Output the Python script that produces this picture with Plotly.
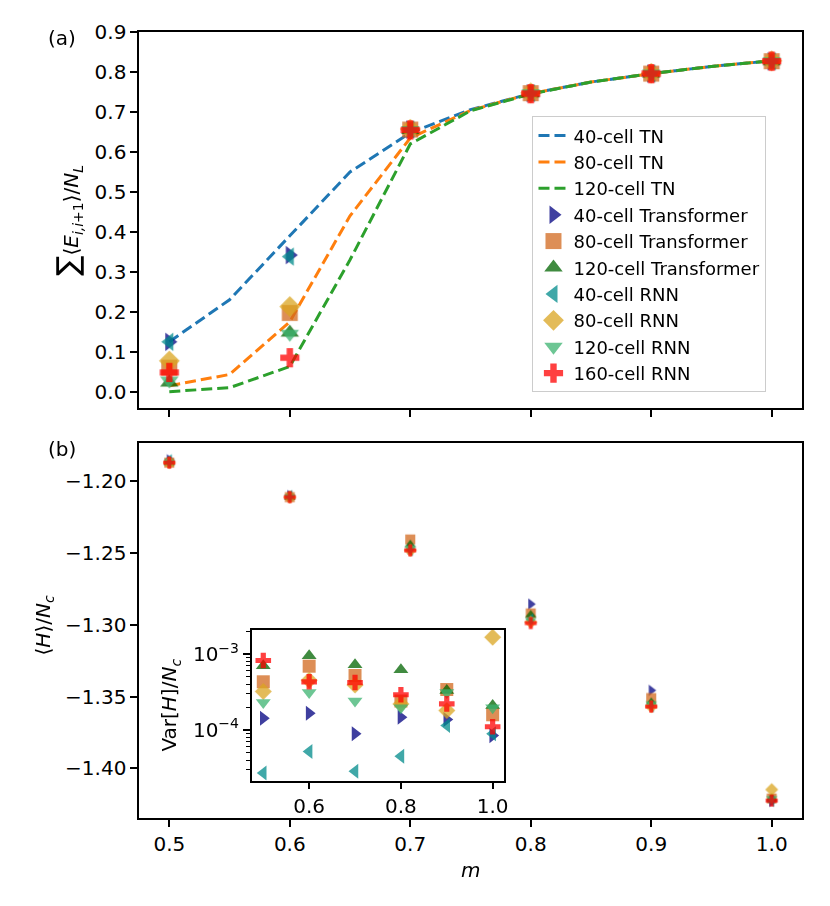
import plotly.graph_objects as go

# ---- data ----
m_tn = [0.5, 0.55, 0.6, 0.65, 0.7, 0.75, 0.8, 0.85, 0.9, 0.95, 1.0]
tn_40 = [0.125, 0.23, 0.39, 0.55, 0.648, 0.706, 0.746, 0.775, 0.796, 0.814, 0.828]
tn_80 = [0.015, 0.043, 0.175, 0.44, 0.635, 0.704, 0.746, 0.775, 0.796, 0.814, 0.828]
tn_120 = [0.0, 0.01, 0.063, 0.33, 0.62, 0.703, 0.745, 0.775, 0.796, 0.814, 0.828]

m = [0.5, 0.6, 0.7, 0.8, 0.9, 1.0]

# (a) energy per link
e_40_tf = [0.125, 0.342, 0.656, 0.747, 0.796, 0.827]
e_80_tf = [0.060, 0.197, 0.656, 0.747, 0.796, 0.827]
e_120_tf = [0.023, 0.148, 0.655, 0.747, 0.796, 0.827]
e_40_rnn = [0.125, 0.338, 0.656, 0.747, 0.796, 0.827]
e_80_rnn = [0.077, 0.213, 0.657, 0.748, 0.797, 0.828]
e_120_rnn = [0.028, 0.145, 0.655, 0.747, 0.796, 0.827]
e_160_rnn = [0.048, 0.085, 0.655, 0.746, 0.796, 0.827]

# (b) energy per cell
h_40_tf = [-1.185, -1.210, -1.247, -1.2856, -1.3456, -1.423]
h_80_tf = [-1.187, -1.211, -1.2405, -1.292, -1.351, -1.421]
h_120_tf = [-1.187, -1.211, -1.244, -1.293, -1.354, -1.421]
h_40_rnn = [-1.185, -1.210, -1.248, -1.296, -1.357, -1.423]
h_80_rnn = [-1.187, -1.211, -1.248, -1.298, -1.357, -1.4148]
h_120_rnn = [-1.187, -1.211, -1.247, -1.297, -1.355, -1.421]
h_160_rnn = [-1.187, -1.211, -1.248, -1.2988, -1.357, -1.4225]

# inset: variance per cell
v_40_tf = [1.42e-4, 1.66e-4, 8.9e-5, 1.47e-4, 1.37e-4, 8.4e-5]
v_80_tf = [4.3e-4, 6.9e-4, 5.2e-4, 2.4e-4, 3.4e-4, 1.58e-4]
v_120_tf = [7.0e-4, 9.5e-4, 7.2e-4, 6.2e-4, 3.3e-4, 2.1e-4]
v_40_rnn = [2.7e-5, 5.2e-5, 2.85e-5, 4.5e-5, 1.14e-4, 8.9e-5]
v_80_rnn = [3.2e-4, 4.5e-4, 3.9e-4, 2.2e-4, 1.8e-4, 1.66e-3]
v_120_rnn = [2.3e-4, 3.1e-4, 2.4e-4, 1.95e-4, 3.1e-4, 1.95e-4]
v_160_rnn = [8.2e-4, 4.3e-4, 4.2e-4, 2.9e-4, 2.2e-4, 1.1e-4]

tn_names = ['40-cell TN', '80-cell TN', '120-cell TN']
tn_colors = ['#1f77b4', '#ff7f0e', '#2ca02c']

models = [
    # name, symbol, colour, (a), (b), inset
    ('40-cell Transformer', 'triangle-right', '#000080', e_40_tf, h_40_tf, v_40_tf),
    ('80-cell Transformer', 'square', '#D2691E', e_80_tf, h_80_tf, v_80_tf),
    ('120-cell Transformer', 'triangle-up', '#006400', e_120_tf, h_120_tf, v_120_tf),
    ('40-cell RNN', 'triangle-left', '#008B8B', e_40_rnn, h_40_rnn, v_40_rnn),
    ('80-cell RNN', 'diamond', '#DAA520', e_80_rnn, h_80_rnn, v_80_rnn),
    ('120-cell RNN', 'triangle-down', '#3CB371', e_120_rnn, h_120_rnn, v_120_rnn),
    ('160-cell RNN', 'cross', '#FF0000', e_160_rnn, h_160_rnn, v_160_rnn),
]

# the page body has an 8px margin, so the figure is shrunk to fit the window
OFF = 8
W, H = 830 - OFF, 906 - OFF
FONT = 'DejaVu Sans'
FS = 20


def px(x):
    return (x - OFF) / W


def py(y):
    # small vertical correction measured from an earlier render
    y = (y - 10.7) / 0.9878
    return 1 - (y - OFF) / H


fig = go.Figure()

# TN curves in (a)
for name, col, ys in zip(tn_names, tn_colors, [tn_40, tn_80, tn_120]):
    fig.add_trace(go.Scatter(x=m_tn, y=ys, mode='lines', name=name,
                             line=dict(color=col, width=3, dash='11px,5px'),
                             xaxis='x', yaxis='y'))

# model markers in all three panels
for name, sym, col, ea, hb, vi in models:
    fig.add_trace(go.Scatter(x=m, y=ea, mode='markers', name=name, opacity=0.75,
                             marker=dict(symbol=sym, color=col, size=16, line=dict(width=0)),
                             xaxis='x', yaxis='y'))
    fig.add_trace(go.Scatter(x=m, y=hb, mode='markers', showlegend=False, opacity=0.75,
                             marker=dict(symbol=sym, color=col, size=10, line=dict(width=0)),
                             xaxis='x2', yaxis='y2'))
    fig.add_trace(go.Scatter(x=m, y=vi, mode='markers', showlegend=False, opacity=0.75,
                             marker=dict(symbol=sym, color=col, size=13, line=dict(width=0)),
                             xaxis='x3', yaxis='y3'))

axis_style = dict(showline=True, linecolor='black', linewidth=1.6, mirror=True,
                  ticks='outside', ticklen=7, tickwidth=1.6, tickcolor='black',
                  showgrid=False, zeroline=False,
                  tickfont=dict(family=FONT, size=FS, color='black'))

x_dom = [px(140), px(806.7)]

fig.update_layout(
    width=W, height=H,
    margin=dict(l=0, r=0, t=0, b=0),
    paper_bgcolor='white', plot_bgcolor='white',
    font=dict(family=FONT, size=FS, color='black'),
    xaxis=dict(axis_style, domain=x_dom, range=[0.475, 1.025],
               tickvals=m, showticklabels=False, anchor='y'),
    yaxis=dict(axis_style, domain=[py(407.3), py(30.7)], range=[-0.0415, 0.9],
               tickvals=[0.0, 0.1, 0.2, 0.3, 0.4, 0.5, 0.6, 0.7, 0.8, 0.9],
               tickformat='.1f', anchor='x'),
    xaxis2=dict(axis_style, domain=x_dom, range=[0.475, 1.025],
                tickvals=m, tickformat='.1f', anchor='y2'),
    yaxis2=dict(axis_style, domain=[py(817.3), py(441.7)], range=[-1.4344, -1.173],
                tickvals=[-1.40, -1.35, -1.30, -1.25, -1.20], tickformat='.2f', anchor='x2'),
    xaxis3=dict(axis_style, domain=[px(253.3), px(506.7)], range=[0.475, 1.024],
                tickvals=[0.6, 0.8, 1.0], tickformat='.1f', anchor='y3'),
    yaxis3=dict(axis_style, domain=[py(780), py(629.3)], type='log',
                range=[-4.667, -2.684],
                tickvals=[1e-4, 1e-3], ticktext=['10<sup>−4</sup>', '10<sup>−3</sup>'],
                minor=dict(ticks='outside', ticklen=4, tickwidth=1.2,
                           tickcolor='black',
                           tickvals=[2e-5, 3e-5, 4e-5, 5e-5, 6e-5, 7e-5, 8e-5, 9e-5,
                                     2e-4, 3e-4, 4e-4, 5e-4, 6e-4, 7e-4, 8e-4, 9e-4,
                                     2e-3]),
                anchor='x3'),
    legend=dict(x=px(535.7), y=py(115), xanchor='left', yanchor='top',
                bgcolor='rgba(255,255,255,0.8)', bordercolor='#cccccc', borderwidth=1,
                font=dict(family=FONT, size=18), tracegroupgap=0,
                entrywidth=215, entrywidthmode='pixels'),
)

labels = [
    # text, x, y, angle
    ('(a)', 62, 37, 0),
    ('(b)', 62, 448, 0),
    ('<span style="font-size:30px">∑</span>⟨<i>E</i><sub><i>i,i</i>+1</sub>⟩/<i>N</i><sub><i>L</i></sub>',
     68, 219, -90),
    ('⟨<i>H</i>⟩/<i>N</i><sub><i>c</i></sub>', 44, 625, -90),
    ('<i>m</i>', 473, 870, 0),
    ('Var[<i>H</i>]/<i>N</i><sub><i>c</i></sub>', 171, 705, -90),
]
for text, x, y, ang in labels:
    fig.add_annotation(text=text, x=px(x), y=py(y), xref='paper', yref='paper',
                       xanchor='center', yanchor='middle', showarrow=False,
                       textangle=ang, font=dict(family=FONT, size=FS))

fig.write_html('out.html')
